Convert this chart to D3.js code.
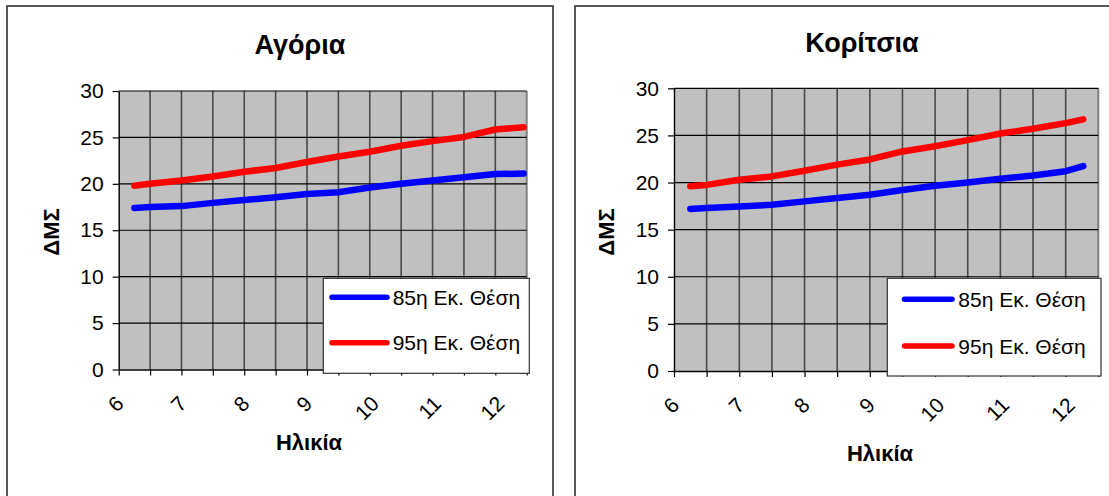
<!DOCTYPE html>
<html>
<head>
<meta charset="utf-8">
<script src="https://cdn.jsdelivr.net/npm/d3@7"></script>
<style>
  html, body { margin: 0; padding: 0; background: #fff; }
  svg { display: block; font-family: "Liberation Sans", Arial, sans-serif; }
</style>
</head>
<body>
<svg id="chart" width="1109" height="496"></svg>
<script>
// ΔΜΣ cut-off values (85th and 95th percentile) by age
const seriesNames = ["85η Εκ. Θέση", "95η Εκ. Θέση"];
const seriesColors = ["#0000ff", "#ff0000"];

const boysAge = [6.25, 6.5, 7, 7.5, 8, 8.5, 9, 9.5, 10, 10.5, 11, 11.5, 12, 12.45];
const boys85 = [17.4, 17.5, 17.6, 17.95, 18.25, 18.55, 18.9, 19.1, 19.6, 20.0, 20.35, 20.7, 21.05, 21.1];
const boys95 = [19.8, 20.0, 20.35, 20.8, 21.3, 21.7, 22.35, 22.95, 23.45, 24.1, 24.6, 25.05, 25.85, 26.1];

const girlsAge = [6.25, 6.5, 7, 7.5, 8, 8.5, 9, 9.5, 10, 10.5, 11, 11.5, 12, 12.27];
const girls85 = [17.2, 17.3, 17.45, 17.65, 18.0, 18.35, 18.7, 19.2, 19.65, 20.0, 20.4, 20.75, 21.2, 21.75];
const girls95 = [19.6, 19.75, 20.3, 20.65, 21.25, 21.9, 22.45, 23.3, 23.85, 24.5, 25.2, 25.7, 26.3, 26.7];

const ageTickLabels = [6, 7, 8, 9, 10, 11, 12];
const bmiTicks = [0, 5, 10, 15, 20, 25, 30];
const ageDomain = [6, 12.5];
const bmiDomain = [0, 30];
const ageGridStep = 0.5;

const svg = d3.select("#chart");
const FONT = "'Liberation Sans', Arial, sans-serif";

function drawPanel(opt) {
  const g = svg.append("g");

  // panel frame
  g.append("rect")
    .attr("x", opt.frame[0]).attr("y", opt.frame[1])
    .attr("width", opt.frame[2]).attr("height", opt.frame[3])
    .attr("fill", "#fff").attr("stroke", "#222").attr("stroke-width", 1.5);

  const x = d3.scaleLinear().domain(ageDomain).range([opt.left, opt.right]);
  const y = d3.scaleLinear().domain(bmiDomain).range([opt.bottom, opt.top]);

  // plot background
  g.append("rect")
    .attr("x", x(ageDomain[0])).attr("y", y(bmiDomain[1]))
    .attr("width", x(ageDomain[1]) - x(ageDomain[0]))
    .attr("height", y(bmiDomain[0]) - y(bmiDomain[1]))
    .attr("fill", "#c0c0c0");

  const ageGrid = d3.range(ageDomain[0], ageDomain[1] + 1e-9, ageGridStep);

  // vertical gridlines
  g.append("g").selectAll("line").data(ageGrid.slice(1, -1)).join("line")
    .attr("x1", d => x(d)).attr("x2", d => x(d))
    .attr("y1", y(bmiDomain[0])).attr("y2", y(bmiDomain[1]))
    .attr("stroke", "#4a4a4a").attr("stroke-width", 1.6);

  // right edge of plot area
  g.append("line")
    .attr("x1", x(ageDomain[1])).attr("x2", x(ageDomain[1]))
    .attr("y1", y(bmiDomain[0])).attr("y2", y(bmiDomain[1]))
    .attr("stroke", "#808080").attr("stroke-width", 2);

  // horizontal gridlines
  g.append("g").selectAll("line").data(bmiTicks.slice(1)).join("line")
    .attr("x1", x(ageDomain[0])).attr("x2", x(ageDomain[1]))
    .attr("y1", d => y(d)).attr("y2", d => y(d))
    .attr("stroke", "#000").attr("stroke-width", 1.2);

  // y axis
  const yAxis = g.append("g")
    .attr("transform", `translate(${x(ageDomain[0])},0)`)
    .call(d3.axisLeft(y).tickValues(bmiTicks).tickSize(6).tickSizeOuter(0).tickPadding(9));
  yAxis.select(".domain").attr("stroke", "#000").attr("stroke-width", 1.4);
  yAxis.selectAll(".tick line").attr("stroke", "#000").attr("stroke-width", 1.2);
  yAxis.selectAll(".tick text")
    .attr("font-family", FONT).attr("font-size", 21).attr("fill", "#000");

  // x axis
  const xAxis = g.append("g")
    .attr("transform", `translate(0,${y(bmiDomain[0])})`)
    .call(d3.axisBottom(x).tickValues(ageGrid).tickSize(6).tickSizeOuter(0).tickFormat(""));
  xAxis.select(".domain").attr("stroke", "#000").attr("stroke-width", 1.4);
  xAxis.selectAll(".tick line").attr("stroke", "#000").attr("stroke-width", 1.2);

  // rotated age labels
  const labels = g.append("g").selectAll("text").data(ageTickLabels).join("text")
    .attr("font-family", FONT).attr("font-size", 21).attr("fill", "#000")
    .attr("text-anchor", "middle").attr("dominant-baseline", "central")
    .text(d => d);
  labels.each(function (d) {
    const w = this.getComputedTextLength();
    const h = 15;
    const half = (w + h) / (2 * Math.SQRT2);
    const cx = x(d) - 3;
    const cy = y(bmiDomain[0]) + 25 + half;
    d3.select(this).attr("transform", `translate(${cx},${cy}) rotate(-45)`);
  });

  // series lines
  const line = d3.line().x(d => x(d[0])).y(d => y(d[1]));
  opt.series.forEach((vals, i) => {
    g.append("path")
      .datum(opt.ages.map((a, k) => [a, vals[k]]))
      .attr("d", line)
      .attr("fill", "none")
      .attr("stroke", seriesColors[i])
      .attr("stroke-width", 6.5)
      .attr("stroke-linecap", "round")
      .attr("stroke-linejoin", "round");
  });

  // title
  g.append("text")
    .attr("x", opt.titlePos[0]).attr("y", opt.titlePos[1])
    .attr("text-anchor", "middle")
    .attr("font-family", FONT).attr("font-size", 27).attr("font-weight", "bold")
    .text(opt.title);

  // axis titles
  g.append("text")
    .attr("transform", `translate(${opt.yTitlePos[0]},${opt.yTitlePos[1]}) rotate(-90)`)
    .attr("text-anchor", "middle").attr("dominant-baseline", "central")
    .attr("font-family", FONT).attr("font-size", 22).attr("font-weight", "bold")
    .text("ΔΜΣ");
  g.append("text")
    .attr("x", opt.xTitlePos[0]).attr("y", opt.xTitlePos[1])
    .attr("text-anchor", "middle").attr("dominant-baseline", "central")
    .attr("font-family", FONT).attr("font-size", 22).attr("font-weight", "bold")
    .text("Ηλικία");

  // legend
  const lg = g.append("g");
  lg.append("rect")
    .attr("x", opt.legend.x).attr("y", opt.legend.y)
    .attr("width", opt.legend.w).attr("height", opt.legend.h)
    .attr("fill", "#fff").attr("stroke", "#333").attr("stroke-width", 1.2);
  seriesNames.forEach((name, i) => {
    const ly = opt.legend.rowY[i];
    lg.append("line")
      .attr("x1", opt.legend.sx1).attr("x2", opt.legend.sx2)
      .attr("y1", ly).attr("y2", ly)
      .attr("stroke", seriesColors[i]).attr("stroke-width", 5.5)
      .attr("stroke-linecap", "round");
    lg.append("text")
      .attr("x", opt.legend.tx).attr("y", ly + 7.5)
      .attr("font-family", FONT).attr("font-size", 21).attr("fill", "#000")
      .text(name);
  });
}

drawPanel({
  title: "Αγόρια",
  frame: [7, 6, 546, 500],
  left: 118.7, right: 526.7, top: 91, bottom: 369.5,
  ages: boysAge, series: [boys85, boys95],
  titlePos: [300, 54],
  yTitlePos: [51.7, 232],
  xTitlePos: [309, 442],
  legend: { x: 323.3, y: 278.3, w: 206, h: 95, rowY: [297.3, 342.7], sx1: 332, sx2: 387, tx: 392.7 }
});

drawPanel({
  title: "Κορίτσια",
  frame: [575, 6, 540, 500],
  left: 674, right: 1098.3, top: 88.3, bottom: 371,
  ages: girlsAge, series: [girls85, girls95],
  titlePos: [862, 52],
  yTitlePos: [606, 232],
  xTitlePos: [880, 453],
  legend: { x: 887.3, y: 278.3, w: 213.7, h: 97.7, rowY: [299.3, 346], sx1: 904.5, sx2: 952, tx: 958.3 }
});
</script>
</body>
</html>
